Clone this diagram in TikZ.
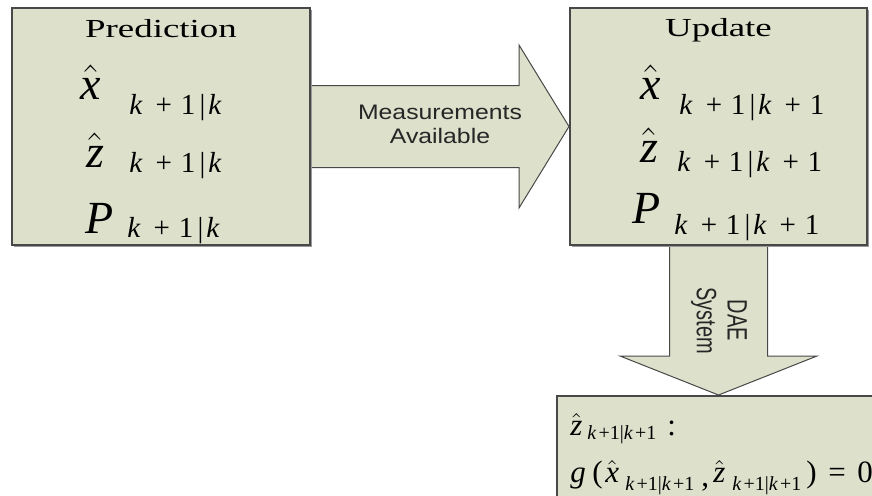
\documentclass[tikz,border=0pt]{standalone}
\usepackage{fontspec}
\setmainfont{Liberation Serif}
\setsansfont{Liberation Sans}
\usepackage{graphicx}
\usetikzlibrary{calc, backgrounds, shadows}
\definecolor{boxfill}{RGB}{221,224,203}
\definecolor{boxline}{RGB}{72,72,72}
\newcommand{\slot}[2]{\makebox[#1][l]{#2}}
\newcommand{\subA}{\fontsize{14.5}{14.5}\selectfont}
\newcommand{\subB}{\fontsize{10}{10}\selectfont}
\newcommand{\ka}{\textit{k}}
\newcommand{\idxP}{\ka\hspace{.45em}+\hspace{.3em}1\hspace{.15em}|\hspace{.1em}\ka}
\newcommand{\idxU}{\idxP\hspace{.45em}+\hspace{.3em}1}
\newcommand{\idxB}{\ka\hspace{.1em}+1|\ka\hspace{.1em}+1}
\tikzset{
    box/.style={rectangle, draw=boxline, fill=boxfill, line width=1pt, inner sep=0pt,
        drop shadow={shadow xshift=0.8pt, shadow yshift=-0.8pt, fill=black!40, opacity=1}},
    blockarrow/.style={draw=boxline, fill=boxfill, line width=0.5pt, line join=miter},
    title/.style={font=\fontsize{13}{15}\selectfont, anchor=base, inner sep=0pt},
    estimate/.style={font=\fontsize{23}{26}\selectfont, anchor=base west, inner sep=0pt},
    eqline/.style={font=\fontsize{15.5}{17}\selectfont, anchor=base west, inner sep=0pt},
    arrowlabel/.style={font=\sffamily\fontsize{10.5}{12}\selectfont, align=center, text=black!85, inner sep=0pt}
}

\begin{document}
\begin{tikzpicture}[x=0.5pt, y=-0.5pt]

                \useasboundingbox (0,0) rectangle (872,495);
                \clip (0,0) rectangle (872,495);

                % Boxes
                \node (pred) [box, minimum width=149pt, minimum height=118.5pt] at (161,126.5) {};
                \node (upd) [box, minimum width=148.5pt, minimum height=118.5pt] at (718.5,126.5) {};
                \node (eqbox) [box, anchor=north west, minimum width=170pt, minimum height=60pt] at (556,395) {};

                % Titles
                \node (predtitle) [title] at ($(pred.north)+(0,30)$) {\scalebox{1.42}[1]{Prediction}};
                \node (updtitle) [title] at ($(upd.north)+(0,29)$) {\scalebox{1.42}[1]{Update}};

                % Inside Prediction
                \node (predx) [estimate] at ($(pred.north west)+(69,92)$) {\slot{24.5pt}{$\hat{\textit{x}}$}\raisebox{-7.5pt}{\subA\idxP}};
                \node (predz) [estimate] at ($(pred.north west)+(75,160)$) {\slot{21.5pt}{$\hat{\textit{z}}$}\raisebox{-2.5pt}{\subA\idxP}};
                \node (predp) [estimate] at ($(pred.north west)+(74,226)$) {\slot{21pt}{\textit{P}}\raisebox{-2pt}{\subA\idxP}};

                % Inside Update
                \node (updx) [estimate] at ($(upd.north west)+(71,92)$) {\slot{19.5pt}{$\hat{\textit{x}}$}\raisebox{-7.5pt}{\subA\idxU}};
                \node (updz) [estimate] at ($(upd.north west)+(71,155)$) {\slot{18.5pt}{$\hat{\textit{z}}$}\raisebox{-4.5pt}{\subA\idxU}};
                \node (updp) [estimate] at ($(upd.north west)+(63,216)$) {\slot{21pt}{\textit{P}}\raisebox{-5.5pt}{\subA\idxU}};

                % Inside constraint box
                \node (eqz) [eqline] at ($(eqbox.north west)+(14,40)$) {\slot{8.5pt}{$\hat{\textit{z}}$}\slot{40pt}{\raisebox{-2pt}{\subB\idxB}}:};
                \node (eqg) [eqline] at ($(eqbox.north west)+(14,87)$) {\slot{11pt}{\textit{g}}\slot{6.5pt}{(}\slot{10pt}{$\hat{\textit{x}}$}\slot{38pt}{\raisebox{-4pt}{\subB\idxB}}\slot{6pt}{\raisebox{-2pt}{,}}\slot{9.5pt}{$\hat{\textit{z}}$}\slot{37pt}{\raisebox{-4pt}{\subB\idxB}}\slot{11pt}{)}\slot{14.5pt}{=}0};

                % Block arrows
                \coordinate (tip) at (upd.south |- eqbox.north);
                \begin{scope}[on background layer]
                    \draw[blockarrow] ($(pred.east)+(0,-41)$) -- ($(upd.west)+(-50,-41)$) -- ($(upd.west)+(-50,-81.5)$) -- (upd.west) -- ($(upd.west)+(-50,81.5)$) -- ($(upd.west)+(-50,41)$) -- ($(pred.east)+(0,41)$) -- cycle;
                    \draw[blockarrow] ($(upd.south)+(-49,0)$) -- ($(tip)+(-49,-39)$) -- ($(tip)+(-98.5,-39)$) -- (tip) -- ($(tip)+(98.5,-39)$) -- ($(tip)+(49,-39)$) -- ($(upd.south)+(49,0)$) -- cycle;
                \end{scope}

                % Arrow labels
                \node (measlabel) [arrowlabel] at ($(pred.east)!0.5!(upd.west)$) {\scalebox{1.18}[1]{\begin{tabular}{@{}c@{}}Measurements\\Available\end{tabular}}};
                \node (daelabel) [arrowlabel, font=\sffamily\fontsize{10}{11}\selectfont, rotate=-90] at ($(upd.south)!0.5!(tip)$) {\scalebox{1}[1.4]{\begin{tabular}{@{}c@{}}DAE\\System\end{tabular}}};

            \end{tikzpicture}
\end{document}
